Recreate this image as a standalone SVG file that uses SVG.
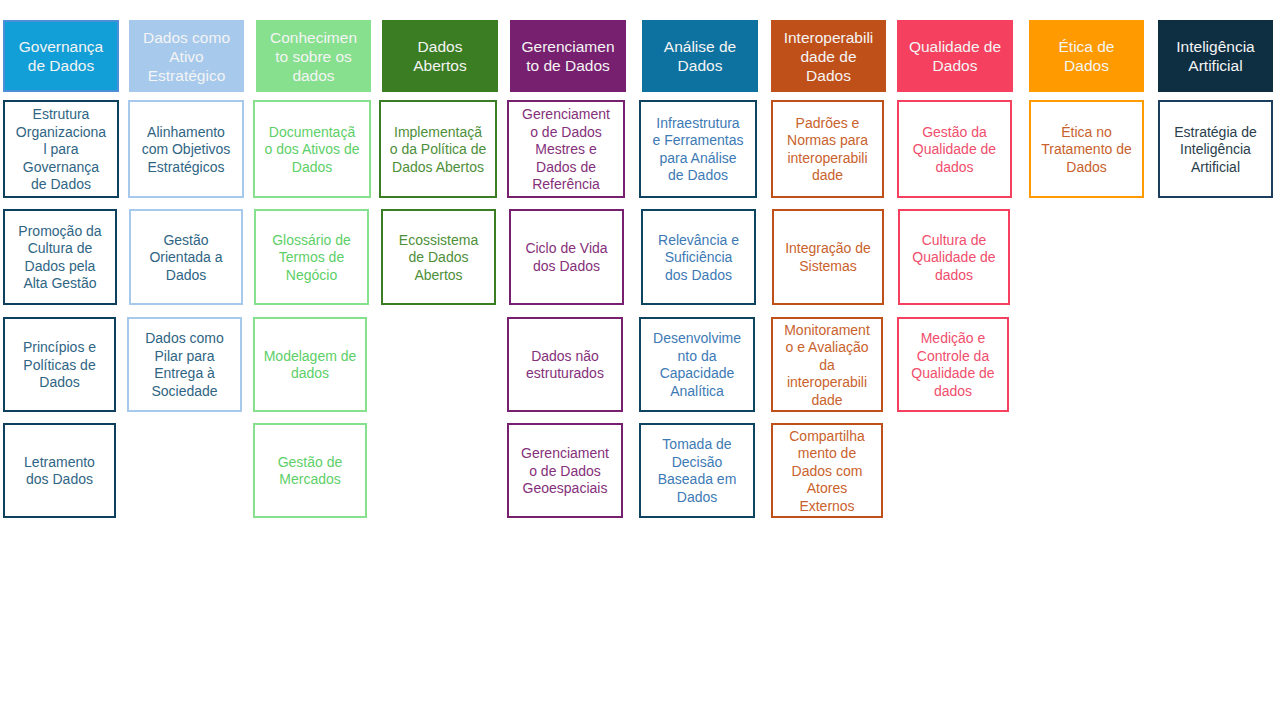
<svg xmlns="http://www.w3.org/2000/svg" width="1280" height="720" viewBox="0 0 1280 720">
<style>
.hd{font-family:"Liberation Sans",Arial,sans-serif;font-size:15.5px;fill:#F4F4F4;text-anchor:middle}
.bt{font-family:"Liberation Sans",Arial,sans-serif;font-size:14px;text-anchor:middle}
.bx{fill:#FFFFFF;stroke-width:2}
.c1{stroke:#0E3F5C}.t1{fill:#2F6584}
.c2{stroke:#A6C9EC}.t2{fill:#2F6584}
.c3{stroke:#86E08E}.t3{fill:#5DCF68}
.c4{stroke:#3A7D22}.t4{fill:#4E8F3A}
.c5{stroke:#772070}.t5{fill:#85307A}
.c6{stroke:#0E4460}.t6{fill:#3D7AB5}
.c7{stroke:#C0501A}.t7{fill:#C9622D}
.c8{stroke:#F5415F}.t8{fill:#F04E6C}
.c9{stroke:#FF9B00}.t9{fill:#C9622D}
.c10{stroke:#1B3D5E}.t10{fill:#2A3E4C}
</style>
<rect width="1280" height="720" fill="#FFFFFF"/>
<g id="connectors"/>

<!-- Headers -->
<g id="h1"><rect x="4" y="21" width="114" height="70" fill="#129ED6" stroke="#4A8FD8" stroke-width="2"/>
<text class="hd" x="61" y="52">Governança<tspan x="61" dy="19">de Dados</tspan></text></g>
<g id="h2"><rect x="129" y="20" width="115" height="72" fill="#A6C9EC"/>
<text class="hd" x="186.5" y="42.5">Dados como<tspan x="186.5" dy="19">Ativo</tspan><tspan x="186.5" dy="19">Estratégico</tspan></text></g>
<g id="h3"><rect x="256" y="20" width="115" height="72" fill="#86E08E"/>
<text class="hd" x="313.5" y="42.5">Conhecimen<tspan x="313.5" dy="19">to sobre os</tspan><tspan x="313.5" dy="19">dados</tspan></text></g>
<g id="h4"><rect x="382" y="20" width="116" height="72" fill="#3A7D22"/>
<text class="hd" x="440" y="52">Dados<tspan x="440" dy="19">Abertos</tspan></text></g>
<g id="h5"><rect x="510" y="20" width="116" height="72" fill="#772070"/>
<text class="hd" x="568" y="52">Gerenciamen<tspan x="568" dy="19">to de Dados</tspan></text></g>
<g id="h6"><rect x="642" y="20" width="116" height="72" fill="#0E72A0"/>
<text class="hd" x="700" y="52">Análise de<tspan x="700" dy="19">Dados</tspan></text></g>
<g id="h7"><rect x="771" y="20" width="115" height="72" fill="#C0501A"/>
<text class="hd" x="828.5" y="42.5">Interoperabili<tspan x="828.5" dy="19">dade de</tspan><tspan x="828.5" dy="19">Dados</tspan></text></g>
<g id="h8"><rect x="897" y="20" width="116" height="72" fill="#F5415F"/>
<text class="hd" x="955" y="52">Qualidade de<tspan x="955" dy="19">Dados</tspan></text></g>
<g id="h9"><rect x="1029" y="20" width="115" height="72" fill="#FF9B00"/>
<text class="hd" x="1086.5" y="52">Ética de<tspan x="1086.5" dy="19">Dados</tspan></text></g>
<g id="h10"><rect x="1158" y="20" width="115" height="72" fill="#0E2E42"/>
<text class="hd" x="1215.5" y="52">Inteligência<tspan x="1215.5" dy="19">Artificial</tspan></text></g>

<!-- Column 1 -->
<g id="c1r1"><rect class="bx c1" x="4" y="101" width="114" height="96"/>
<text class="bt t1" x="61" y="119">Estrutura<tspan x="61" dy="17.5">Organizaciona</tspan><tspan x="61" dy="17.5">l para</tspan><tspan x="61" dy="17.5">Governança</tspan><tspan x="61" dy="17.5">de Dados</tspan></text></g>
<g id="c1r2"><rect class="bx c1" x="4" y="210" width="112" height="94"/>
<text class="bt t1" x="60" y="235.75">Promoção da<tspan x="60" dy="17.5">Cultura de</tspan><tspan x="60" dy="17.5">Dados pela</tspan><tspan x="60" dy="17.5">Alta Gestão</tspan></text></g>
<g id="c1r3"><rect class="bx c1" x="4" y="318" width="111" height="93"/>
<text class="bt t1" x="59.5" y="352">Princípios e<tspan x="59.5" dy="17.5">Políticas de</tspan><tspan x="59.5" dy="17.5">Dados</tspan></text></g>
<g id="c1r4"><rect class="bx c1" x="4" y="424" width="111" height="93"/>
<text class="bt t1" x="59.5" y="466.75">Letramento<tspan x="59.5" dy="17.5">dos Dados</tspan></text></g>

<!-- Column 2 -->
<g id="c2r1"><rect class="bx c2" x="129" y="101" width="114" height="96"/>
<text class="bt t2" x="186" y="136.5">Alinhamento<tspan x="186" dy="17.5">com Objetivos</tspan><tspan x="186" dy="17.5">Estratégicos</tspan></text></g>
<g id="c2r2"><rect class="bx c2" x="130" y="210" width="112" height="94"/>
<text class="bt t2" x="186" y="244.5">Gestão<tspan x="186" dy="17.5">Orientada a</tspan><tspan x="186" dy="17.5">Dados</tspan></text></g>
<g id="c2r3"><rect class="bx c2" x="128" y="318" width="113" height="93"/>
<text class="bt t2" x="184.5" y="343.25">Dados como<tspan x="184.5" dy="17.5">Pilar para</tspan><tspan x="184.5" dy="17.5">Entrega à</tspan><tspan x="184.5" dy="17.5">Sociedade</tspan></text></g>

<!-- Column 3 -->
<g id="c3r1"><rect class="bx c3" x="254" y="101" width="116" height="96"/>
<text class="bt t3" x="312" y="136.5">Documentaçã<tspan x="312" dy="17.5">o dos Ativos de</tspan><tspan x="312" dy="17.5">Dados</tspan></text></g>
<g id="c3r2"><rect class="bx c3" x="255" y="210" width="113" height="94"/>
<text class="bt t3" x="311.5" y="244.5">Glossário de<tspan x="311.5" dy="17.5">Termos de</tspan><tspan x="311.5" dy="17.5">Negócio</tspan></text></g>
<g id="c3r3"><rect class="bx c3" x="254" y="318" width="112" height="93"/>
<text class="bt t3" x="310" y="360.75">Modelagem de<tspan x="310" dy="17.5">dados</tspan></text></g>
<g id="c3r4"><rect class="bx c3" x="254" y="424" width="112" height="93"/>
<text class="bt t3" x="310" y="466.75">Gestão de<tspan x="310" dy="17.5">Mercados</tspan></text></g>

<!-- Column 4 -->
<g id="c4r1"><rect class="bx c4" x="380" y="101" width="116" height="96"/>
<text class="bt t4" x="438" y="136.5">Implementaçã<tspan x="438" dy="17.5">o da Política de</tspan><tspan x="438" dy="17.5">Dados Abertos</tspan></text></g>
<g id="c4r2"><rect class="bx c4" x="382" y="210" width="113" height="94"/>
<text class="bt t4" x="438.5" y="244.5">Ecossistema<tspan x="438.5" dy="17.5">de Dados</tspan><tspan x="438.5" dy="17.5">Abertos</tspan></text></g>

<!-- Column 5 -->
<g id="c5r1"><rect class="bx c5" x="508" y="101" width="116" height="96"/>
<text class="bt t5" x="566" y="119">Gerenciament<tspan x="566" dy="17.5">o de Dados</tspan><tspan x="566" dy="17.5">Mestres e</tspan><tspan x="566" dy="17.5">Dados de</tspan><tspan x="566" dy="17.5">Referência</tspan></text></g>
<g id="c5r2"><rect class="bx c5" x="510" y="210" width="113" height="94"/>
<text class="bt t5" x="566.5" y="253.25">Ciclo de Vida<tspan x="566.5" dy="17.5">dos Dados</tspan></text></g>
<g id="c5r3"><rect class="bx c5" x="508" y="318" width="114" height="93"/>
<text class="bt t5" x="565" y="360.75">Dados não<tspan x="565" dy="17.5">estruturados</tspan></text></g>
<g id="c5r4"><rect class="bx c5" x="508" y="424" width="114" height="93"/>
<text class="bt t5" x="565" y="458">Gerenciament<tspan x="565" dy="17.5">o de Dados</tspan><tspan x="565" dy="17.5">Geoespaciais</tspan></text></g>

<!-- Column 6 -->
<g id="c6r1"><rect class="bx c6" x="640" y="101" width="116" height="96"/>
<text class="bt t6" x="698" y="127.75">Infraestrutura<tspan x="698" dy="17.5">e Ferramentas</tspan><tspan x="698" dy="17.5">para Análise</tspan><tspan x="698" dy="17.5">de Dados</tspan></text></g>
<g id="c6r2"><rect class="bx c6" x="642" y="210" width="113" height="94"/>
<text class="bt t6" x="698.5" y="244.5">Relevância e<tspan x="698.5" dy="17.5">Suficiência</tspan><tspan x="698.5" dy="17.5">dos Dados</tspan></text></g>
<g id="c6r3"><rect class="bx c6" x="640" y="318" width="114" height="93"/>
<text class="bt t6" x="697" y="343.25">Desenvolvime<tspan x="697" dy="17.5">nto da</tspan><tspan x="697" dy="17.5">Capacidade</tspan><tspan x="697" dy="17.5">Analítica</tspan></text></g>
<g id="c6r4"><rect class="bx c6" x="640" y="424" width="114" height="93"/>
<text class="bt t6" x="697" y="449.25">Tomada de<tspan x="697" dy="17.5">Decisão</tspan><tspan x="697" dy="17.5">Baseada em</tspan><tspan x="697" dy="17.5">Dados</tspan></text></g>

<!-- Column 7 -->
<g id="c7r1"><rect class="bx c7" x="772" y="101" width="111" height="96"/>
<text class="bt t7" x="827.5" y="127.75">Padrões e<tspan x="827.5" dy="17.5">Normas para</tspan><tspan x="827.5" dy="17.5">interoperabili</tspan><tspan x="827.5" dy="17.5">dade</tspan></text></g>
<g id="c7r2"><rect class="bx c7" x="773" y="210" width="110" height="94"/>
<text class="bt t7" x="828" y="253.25">Integração de<tspan x="828" dy="17.5">Sistemas</tspan></text></g>
<g id="c7r3"><rect class="bx c7" x="772" y="318" width="110" height="93"/>
<text class="bt t7" x="827" y="334.5">Monitorament<tspan x="827" dy="17.5">o e Avaliação</tspan><tspan x="827" dy="17.5">da</tspan><tspan x="827" dy="17.5">interoperabili</tspan><tspan x="827" dy="17.5">dade</tspan></text></g>
<g id="c7r4"><rect class="bx c7" x="772" y="424" width="110" height="93"/>
<text class="bt t7" x="827" y="440.5">Compartilha<tspan x="827" dy="17.5">mento de</tspan><tspan x="827" dy="17.5">Dados com</tspan><tspan x="827" dy="17.5">Atores</tspan><tspan x="827" dy="17.5">Externos</tspan></text></g>

<!-- Column 8 -->
<g id="c8r1"><rect class="bx c8" x="898" y="101" width="113" height="96"/>
<text class="bt t8" x="954.5" y="136.5">Gestão da<tspan x="954.5" dy="17.5">Qualidade de</tspan><tspan x="954.5" dy="17.5">dados</tspan></text></g>
<g id="c8r2"><rect class="bx c8" x="899" y="210" width="110" height="94"/>
<text class="bt t8" x="954" y="244.5">Cultura de<tspan x="954" dy="17.5">Qualidade de</tspan><tspan x="954" dy="17.5">dados</tspan></text></g>
<g id="c8r3"><rect class="bx c8" x="898" y="318" width="110" height="93"/>
<text class="bt t8" x="953" y="343.25">Medição e<tspan x="953" dy="17.5">Controle da</tspan><tspan x="953" dy="17.5">Qualidade de</tspan><tspan x="953" dy="17.5">dados</tspan></text></g>

<!-- Column 9 -->
<g id="c9r1"><rect class="bx c9" x="1030" y="101" width="113" height="96"/>
<text class="bt t9" x="1086.5" y="136.5">Ética no<tspan x="1086.5" dy="17.5">Tratamento de</tspan><tspan x="1086.5" dy="17.5">Dados</tspan></text></g>

<!-- Column 10 -->
<g id="c10r1"><rect class="bx c10" x="1159" y="101" width="113" height="96"/>
<text class="bt t10" x="1215.5" y="136.5">Estratégia de<tspan x="1215.5" dy="17.5">Inteligência</tspan><tspan x="1215.5" dy="17.5">Artificial</tspan></text></g>
</svg>
